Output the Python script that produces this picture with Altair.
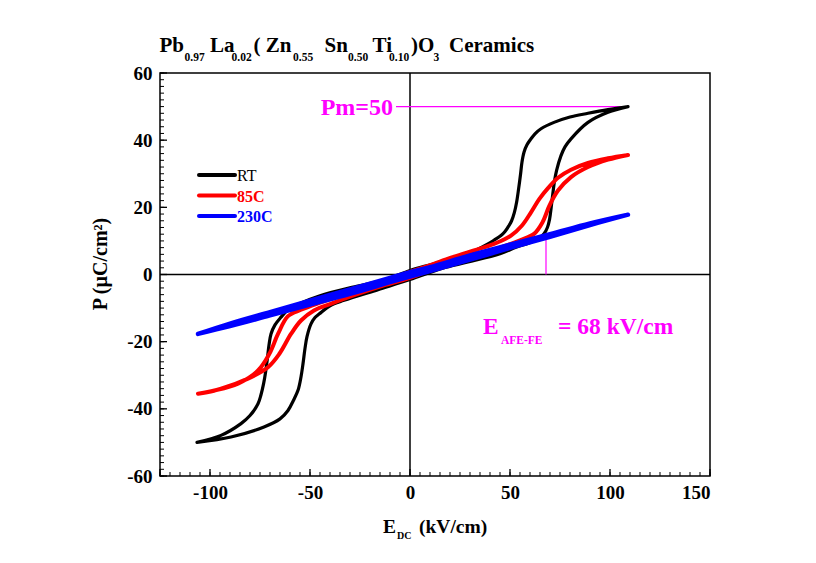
import altair as alt
import pandas as pd

# ---------------- data ----------------
series_names = ["RT", "85C", "230C"]
series_colors = ["#000000", "#ff0000", "#0000ff"]
series_widths = [3.2, 4.0, 4.4]

# RT loop: upper branch (field decreasing), then lower branch (field increasing)
rt_up_E = [109, 99, 89, 80, 72, 65.5, 62.5, 60.5, 58.5, 57, 56, 55.3, 54.3, 53.3, 52.2, 50.8, 49.5, 47.5,
           45.5, 42, 39, 29, 12, 0,
           -12, -29, -45, -55, -61, -64.5, -67.5, -69.5, -70.5, -71.3, -72.2, -73.2, -74.5, -76, -80,
           -84.5, -94.5, -106.5]
rt_up_P = [50, 49.1, 48.0, 46.9, 45.3, 43.4, 41.9, 40.4, 38.6, 36.4, 33.5, 30.0, 25.5, 21.5, 18.5, 16.0, 14.6, 12.8,
           11.6, 10.2, 9.1, 6.2, 3.2, 1.2,
           -1.5, -3.8, -6.3, -8.6, -10.5, -12.7, -15.0, -17.7, -21.0, -25.0, -29.0, -32.5, -35.8, -38.5, -42.0,
           -44.4, -47.9, -50]
rt_lo_E = [-106.5, -89.5, -73, -65, -61, -58.3, -56, -54.5, -53.5, -52.5, -51.5, -49.5, -47.5, -45.3, -40, -33,
           -16, 0, 16, 29, 45, 53,
           60.5, 64.5, 67, 68.7, 69.8, 70.6, 71.4, 72.3, 73.3, 75.5, 77.5, 80.5, 89, 99, 109]
rt_lo_P = [-50, -48.4, -45.4, -43.0, -40.5, -37.5, -34.5, -30.5, -26.6, -22.0, -18.5, -14.7, -12.8, -11.7, -9.3, -7.7,
           -4.5, -1.5, 1.8, 3.7, 6.2, 8.1,
           9.6, 10.8, 12.1, 14.0, 16.5, 20.0, 24.0, 28.0, 31.0, 35.4, 38.0, 40.4, 45.3, 48.3, 50]

# 85C loop
r85_up_E = [109, 99, 89, 80.5, 74, 69, 64.7, 60.5, 56, 50.5, 42, 30, 20.5, 10, 0,
            -15, -30, -45, -54.5, -61, -66, -70.3, -76, -86, -98, -106]
r85_up_P = [35.6, 34.6, 33.2, 31.2, 28.8, 25.7, 22.5, 18.5, 14.6, 11.6, 9.1, 6.8, 5.0, 2.8, 0.8,
            -2.6, -5.4, -8.4, -10.5, -12.4, -17.7, -23.6, -28.6, -32.5, -34.6, -35.5]
r85_lo_E = [-106, -94.5, -81, -71, -65.3, -59.5, -54.5, -48, -40, -30, -15, 0, 15, 30, 45, 55,
            62, 66.3, 69.7, 74, 80.5, 89, 99, 109]
r85_lo_P = [-35.5, -34.0, -31.0, -27.6, -23.6, -17.7, -13.7, -10.7, -8.8, -6.6, -3.6, -1.0, 2.5, 5.2, 8.0, 10.2,
            12.1, 15.6, 20.5, 25.0, 29.0, 32.0, 34.2, 35.6]

# 230C loop
r230_up_E = [109, 90, 70, 50, 30, 10, 0, -10, -30, -50, -70, -90, -106]
r230_up_P = [17.8, 15.2, 12.0, 8.9, 5.7, 2.2, 0.7, -1.0, -4.4, -7.8, -11.2, -14.6, -17.7]
r230_lo_E = [-106, -90, -70, -50, -30, -10, 0, 10, 30, 50, 70, 90, 109]
r230_lo_P = [-17.7, -15.4, -12.2, -9.0, -5.8, -2.3, -0.6, 1.0, 4.4, 7.9, 11.2, 14.7, 17.8]

x_major = [-125, -100, -50, 0, 50, 100, 150]
x_labels = [-100, -50, 0, 50, 100, 150]
x_minor = list(range(-125, 151, 5))
y_major = [-60, -40, -20, 0, 20, 40, 60]
y_minor = list(range(-60, 61, 2))

pm_value = 50
pm_line_E = [-7, 109]
e_afe = 68
e_afe_top = 11.5

title_pieces = ["Pb", "0.97", "La", "0.02", "( Zn", "0.55", "Sn", "0.50", "Ti", "0.10", ")O", "3", "Ceramics"]
title_is_sub = [False, True, False, True, False, True, False, True, False, True, False, True, False]
title_x_px = [159.5, 184.5, 210, 231.5, 253.5, 293, 324.5, 348, 372.5, 389, 411, 433.5, 449]

# ---------------- layout ----------------
W, H = 550, 403
OX, OY = 160, 73  # plot origin on the page
FONT = "Liberation Serif"
MAGENTA = "#ff00ff"

xscale = alt.Scale(domain=[-125, 150], nice=False, zero=False)
yscale = alt.Scale(domain=[-60, 60], nice=False, zero=False)

loops = [
    (rt_up_E + rt_lo_E, rt_up_P + rt_lo_P),
    (r85_up_E + r85_lo_E, r85_up_P + r85_lo_P),
    (r230_up_E + r230_lo_E, r230_up_P + r230_lo_P),
]

layers = []

# frame / axes layer
axis_df = pd.DataFrame({"E": [0], "P": [0]})
frame = alt.Chart(axis_df).mark_rule(color="black", strokeWidth=1.5).encode(
    x=alt.X("E:Q", scale=xscale, title=None,
            axis=alt.Axis(values=x_labels, labelExpr="'' + datum.value", labelPadding=7)),
    y=alt.value(0), y2=alt.value(H),
)
hline = alt.Chart(axis_df).mark_rule(color="black", strokeWidth=1.5).encode(
    y=alt.Y("P:Q", scale=yscale, title=None,
            axis=alt.Axis(values=y_major, labelExpr="'' + datum.value", labelPadding=8)),
    x=alt.value(0), x2=alt.value(W),
)
layers += [frame, hline]

# inward ticks
layers.append(alt.Chart(pd.DataFrame({"E": x_minor})).mark_rule(color="black", strokeWidth=1).encode(
    x=alt.X("E:Q", scale=xscale), y=alt.value(H), y2=alt.value(H - 4)))
layers.append(alt.Chart(pd.DataFrame({"E": x_major})).mark_rule(color="black", strokeWidth=1.3).encode(
    x=alt.X("E:Q", scale=xscale), y=alt.value(H), y2=alt.value(H - 7)))
layers.append(alt.Chart(pd.DataFrame({"P": y_minor})).mark_rule(color="black", strokeWidth=1).encode(
    y=alt.Y("P:Q", scale=yscale), x=alt.value(0), x2=alt.value(4)))
layers.append(alt.Chart(pd.DataFrame({"P": y_major})).mark_rule(color="black", strokeWidth=1.3).encode(
    y=alt.Y("P:Q", scale=yscale), x=alt.value(0), x2=alt.value(7)))

# magenta guide lines
layers.append(alt.Chart(pd.DataFrame({"E0": [pm_line_E[0]], "E1": [pm_line_E[1]], "P": [pm_value]}))
              .mark_rule(color=MAGENTA, strokeWidth=1.2).encode(
    x=alt.X("E0:Q", scale=xscale), x2="E1:Q", y=alt.Y("P:Q", scale=yscale)))
layers.append(alt.Chart(pd.DataFrame({"E": [e_afe], "P0": [0], "P1": [e_afe_top]}))
              .mark_rule(color=MAGENTA, strokeWidth=1.2).encode(
    x=alt.X("E:Q", scale=xscale), y=alt.Y("P0:Q", scale=yscale), y2="P1:Q"))

# hysteresis loops
for name, color, sw, (E, P) in zip(series_names, series_colors, series_widths, loops):
    d = pd.DataFrame({"E": E, "P": P, "idx": list(range(len(E)))})
    layers.append(alt.Chart(d).mark_line(color=color, strokeWidth=sw, interpolate="catmull-rom",
                                         strokeJoin="round", strokeCap="round").encode(
        x=alt.X("E:Q", scale=xscale), y=alt.Y("P:Q", scale=yscale), order="idx:Q"))

# legend (manual)
for i, (name, color) in enumerate(zip(series_names, series_colors)):
    ly = 102 + 20.5 * i
    one = pd.DataFrame({"t": [name]})
    layers.append(alt.Chart(one).mark_rule(color=color, strokeWidth=4, strokeCap="round").encode(
        x=alt.value(39), x2=alt.value(75), y=alt.value(ly)))
    layers.append(alt.Chart(one).mark_text(
        color=color, font=FONT, fontSize=16, fontWeight="normal" if i == 0 else "bold",
        align="left", baseline="middle").encode(x=alt.value(77), y=alt.value(ly + 1), text="t:N"))

# annotation texts (data coordinates)
layers.append(alt.Chart(pd.DataFrame({"E": [-8.5], "P": [pm_value], "t": ["Pm=50"]})).mark_text(
    color=MAGENTA, font=FONT, fontSize=24, fontWeight="bold", align="right", baseline="middle", dy=1).encode(
    x=alt.X("E:Q", scale=xscale), y=alt.Y("P:Q", scale=yscale), text="t:N"))
ann = [("E", 36.5, -17.6, 23.5), ("AFE-FE", 45.5, -20.6, 11.5), ("= 68 kV/cm", 74, -17.6, 23.5)]
for t, e, p, fs in ann:
    layers.append(alt.Chart(pd.DataFrame({"E": [e], "P": [p], "t": [t]})).mark_text(
        color=MAGENTA, font=FONT, fontSize=fs, fontWeight="bold", align="left", baseline="alphabetic").encode(
        x=alt.X("E:Q", scale=xscale), y=alt.Y("P:Q", scale=yscale), text="t:N"))

# chart title with subscripts
for t, sub, xp in zip(title_pieces, title_is_sub, title_x_px):
    layers.append(alt.Chart(pd.DataFrame({"t": [t]})).mark_text(
        color="black", font=FONT, fontSize=11.5 if sub else 21, fontWeight="bold",
        align="left", baseline="alphabetic").encode(
        x=alt.value(xp - OX), y=alt.value((60.5 if sub else 52) - OY), text="t:N"))

# axis titles
xt = [("E", 383, 533, 19.5), ("DC", 397, 539, 10), ("(kV/cm)", 419, 533, 19.5)]
for t, xp, yp, fs in xt:
    layers.append(alt.Chart(pd.DataFrame({"t": [t]})).mark_text(
        color="black", font=FONT, fontSize=fs, fontWeight="bold", align="left", baseline="alphabetic").encode(
        x=alt.value(xp - OX), y=alt.value(yp - OY), text="t:N"))
layers.append(alt.Chart(pd.DataFrame({"t": ["P (\u00b5C/cm\u00b2)"]})).mark_text(
    color="black", font=FONT, fontSize=20, fontWeight="bold", angle=270,
    align="center", baseline="middle").encode(
    x=alt.value(101 - OX), y=alt.value(264 - OY), text="t:N"))

chart = alt.layer(*layers).properties(
    width=W, height=H,
    autosize=alt.AutoSizeParams(type="none"),
    padding={"left": OX - 8, "top": OY - 8, "right": 90, "bottom": 70},
    background="white",
).configure_view(stroke="black", strokeWidth=1.5).configure_axis(
    domain=False, grid=False, ticks=False, tickSize=0,
    labelFont=FONT, labelFontWeight="bold", labelFontSize=19, labelColor="black",
)

chart.save("out.html", embed_options={"renderer": "svg", "actions": False})
